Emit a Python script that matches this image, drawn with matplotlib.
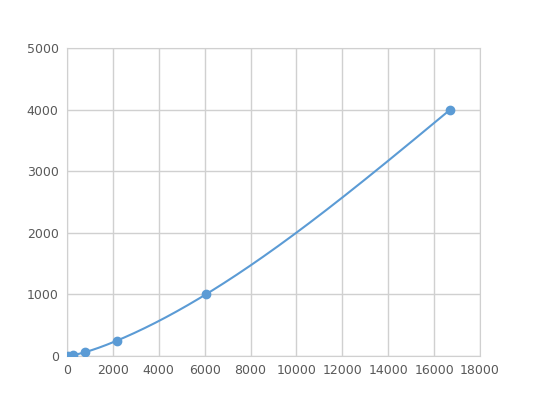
import matplotlib
matplotlib.use('Agg')
import matplotlib.pyplot as plt
import numpy as np

# standard points
conc = [40, 280, 790, 2180, 6050, 16700]
signal = [0, 15.6, 62.5, 250, 1000, 4000]

x_ticks = [0, 2000, 4000, 6000, 8000, 10000, 12000, 14000, 16000, 18000]
y_ticks = [0, 1000, 2000, 3000, 4000, 5000]


def natural_spline(x, y, xs):
	# natural cubic spline through the points, only used to draw a smooth line
	x = np.asarray(x, float)
	y = np.asarray(y, float)
	n = len(x)
	h = np.diff(x)
	A = np.zeros((n, n))
	b = np.zeros(n)
	A[0, 0] = 1
	A[-1, -1] = 1
	for i in range(1, n - 1):
		A[i, i - 1] = h[i - 1]
		A[i, i] = 2 * (h[i - 1] + h[i])
		A[i, i + 1] = h[i]
		b[i] = 6 * ((y[i + 1] - y[i]) / h[i] - (y[i] - y[i - 1]) / h[i - 1])
	M = np.linalg.solve(A, b)
	idx = np.clip(np.searchsorted(x, xs) - 1, 0, n - 2)
	x0 = x[idx]
	x1 = x[idx + 1]
	hh = h[idx]
	t0 = x1 - xs
	t1 = xs - x0
	return (M[idx] * t0**3 / (6 * hh) + M[idx + 1] * t1**3 / (6 * hh)
		+ (y[idx] / hh - M[idx] * hh / 6) * t0
		+ (y[idx + 1] / hh - M[idx + 1] * hh / 6) * t1)


fig = plt.figure(figsize=(5.33, 4.0), dpi=100)
ax = fig.add_axes([0.1257, 0.11, 0.775, 0.77])

blue = '#5B9BD5'
xs = np.linspace(conc[0], conc[-1], 400)
ax.plot(xs, natural_spline(conc, signal, xs), color=blue, lw=1.5, zorder=3)
ax.scatter(conc, signal, s=36, color=blue, zorder=4)

ax.set_xlim(0, 18000)
ax.set_ylim(0, 5000)
ax.set_xticks(x_ticks)
ax.set_yticks(y_ticks)
ax.grid(True, color='#D0D0D0', lw=1)
ax.set_axisbelow(True)
for s in ax.spines.values():
	s.set_color('#D0D0D0')
ax.tick_params(length=0, labelsize=9, colors='#595959', pad=6)

fig.savefig('out.png', dpi=100)
